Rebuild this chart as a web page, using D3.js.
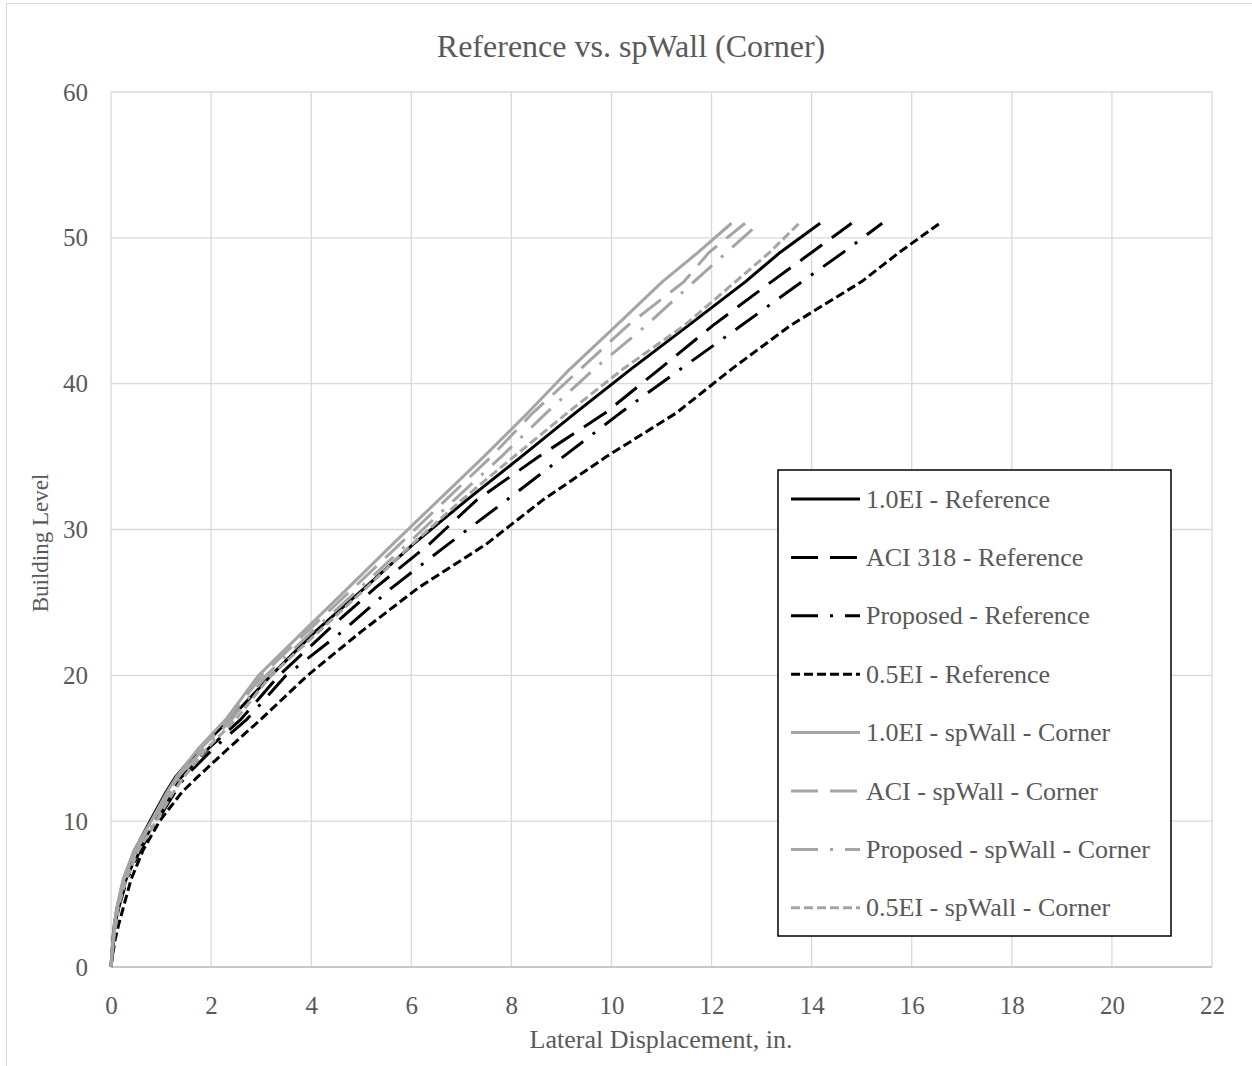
<!DOCTYPE html>
<html><head><meta charset="utf-8">
<script src="https://cdn.jsdelivr.net/npm/d3@7"></script>
<style>body{margin:0;background:#fff}svg{display:block}</style>
</head><body>
<script>
const levels = [0,1,2,3,4,6,8,10,12,13,15,17,20,23,26,29,32,35,38,41,44,47,49,51];
const ei10Ref   = [0,0.02,0.04,0.07,0.12,0.25,0.47,0.78,1.10,1.28,1.78,2.38,3.20,4.08,5.07,6.04,7.10,8.20,9.28,10.39,11.54,12.68,13.37,14.17];
const aciRef    = [0,0.02,0.05,0.09,0.14,0.30,0.55,0.88,1.22,1.40,1.95,2.60,3.36,4.30,5.28,6.36,7.30,8.55,9.88,10.96,12.03,13.20,14.00,14.80];
const propRef   = [0,0.03,0.06,0.10,0.15,0.32,0.58,0.92,1.28,1.47,2.05,2.72,3.50,4.62,5.61,6.74,7.90,9.04,10.18,11.38,12.60,13.81,14.63,15.41];
const ei05Ref   = [0,0.04,0.09,0.16,0.24,0.40,0.64,0.97,1.42,1.72,2.35,3.00,3.93,5.00,6.14,7.50,8.62,9.90,11.30,12.40,13.58,15.00,15.75,16.56];
const ei10Sp    = [0,0.02,0.04,0.07,0.11,0.24,0.46,0.80,1.12,1.30,1.75,2.30,2.95,3.84,4.74,5.63,6.54,7.45,8.33,9.17,10.10,11.02,11.73,12.40];
const aciSp     = [0,0.02,0.05,0.08,0.12,0.26,0.49,0.83,1.16,1.34,1.80,2.35,3.02,3.92,4.85,5.77,6.68,7.60,8.43,9.38,10.33,11.45,11.95,12.67];
const propSp    = [0,0.02,0.05,0.08,0.12,0.27,0.50,0.85,1.18,1.37,1.85,2.42,3.10,4.02,4.98,5.92,6.85,7.80,8.70,9.65,10.70,11.65,12.30,12.95];
const ei05Sp    = [0,0.03,0.06,0.10,0.14,0.30,0.55,0.90,1.25,1.45,1.92,2.50,3.20,4.15,5.10,6.02,7.00,8.05,9.12,10.23,11.46,12.48,13.16,13.75];

const seriesNames = ["1.0EI - Reference","ACI 318 - Reference","Proposed - Reference","0.5EI - Reference",
  "1.0EI - spWall - Corner","ACI - spWall - Corner","Proposed - spWall - Corner","0.5EI - spWall - Corner"];
const seriesValues = [ei10Ref, aciRef, propRef, ei05Ref, ei10Sp, aciSp, propSp, ei05Sp];
const xTicks = [0,2,4,6,8,10,12,14,16,18,20,22];
const yTicks = [0,10,20,30,40,50,60];

const colors = ["#000","#000","#000","#000","#a5a5a5","#a5a5a5","#a5a5a5","#a5a5a5"];
const dashes = [null,"27,12","27,12,3,12","9,4",null,"27,12","27,12,3,12","9,4"];

const W=1252,H=1066;
const svg = d3.select("body").append("svg").attr("width",W).attr("height",H);
const font = "'Liberation Serif','Times New Roman',serif";
const txt = "#595959";

svg.append("rect").attr("x",6.5).attr("y",3.5).attr("width",W+20).attr("height",H+20)
  .attr("fill","#fff").attr("stroke","#d9d9d9").attr("stroke-width",1);

const x = d3.scaleLinear().domain([0,22]).range([111,1212]);
const y = d3.scaleLinear().domain([0,60]).range([967,92]);

const g = svg.append("g");
g.selectAll(".vg").data(xTicks).join("line")
  .attr("x1",d=>x(d)).attr("x2",d=>x(d)).attr("y1",y(0)).attr("y2",y(60))
  .attr("stroke","#d9d9d9").attr("stroke-width",1.3);
g.selectAll(".hg").data(yTicks).join("line")
  .attr("x1",x(0)).attr("x2",x(22)).attr("y1",d=>y(d)).attr("y2",d=>y(d))
  .attr("stroke","#d9d9d9").attr("stroke-width",1.3);
g.append("line").attr("x1",x(0)).attr("x2",x(22)).attr("y1",y(0)).attr("y2",y(0))
  .attr("stroke","#bfbfbf").attr("stroke-width",1.3);

const xAxis = svg.append("g").attr("transform",`translate(0,${y(0)})`)
  .call(d3.axisBottom(x).tickValues(xTicks).tickSize(0));
xAxis.select(".domain").remove();
xAxis.selectAll("text").attr("font-family",font).attr("font-size",25).attr("fill",txt)
  .attr("y",47).attr("dy",0);
const yAxis = svg.append("g").attr("transform",`translate(${x(0)},0)`)
  .call(d3.axisLeft(y).tickValues(yTicks).tickSize(0).tickPadding(23));
yAxis.select(".domain").remove();
yAxis.selectAll("text").attr("font-family",font).attr("font-size",25).attr("fill",txt);

const line = d3.line().x(d=>x(d[0])).y(d=>y(d[1]));
const plot = svg.append("g");
seriesValues.forEach((vals,i)=>{
  const pts = vals.map((v,j)=>[v,levels[j]]);
  plot.append("path").datum(pts).attr("d",line)
    .attr("fill","none").attr("stroke",colors[i]).attr("stroke-width",3)
    .attr("stroke-linejoin","round")
    .attr("stroke-dasharray",dashes[i]);
});

svg.append("text").attr("x",631).attr("y",57).attr("text-anchor","middle")
  .attr("font-family",font).attr("font-size",32).attr("fill",txt).text("Reference vs. spWall (Corner)");
svg.append("text").attr("x",661).attr("y",1048).attr("text-anchor","middle")
  .attr("font-family",font).attr("font-size",26).attr("fill",txt).text("Lateral Displacement, in.");
svg.append("text").attr("transform","translate(48,543) rotate(-90)").attr("text-anchor","middle")
  .attr("font-family",font).attr("font-size",23).attr("fill",txt).text("Building Level");

const lg = svg.append("g");
lg.append("rect").attr("x",778).attr("y",470).attr("width",393).attr("height",466)
  .attr("fill","#fff").attr("stroke","#000").attr("stroke-width",1.5);
seriesNames.forEach((n,i)=>{
  const yy = 499 + i*58.4;
  lg.append("line").attr("x1",791).attr("x2",860).attr("y1",yy).attr("y2",yy)
    .attr("stroke",colors[i]).attr("stroke-width",3).attr("stroke-dasharray",dashes[i]);
  lg.append("text").attr("x",866).attr("y",yy+8.5).attr("font-family",font).attr("font-size",26)
    .attr("fill",txt).text(n);
});
</script>
</body></html>
